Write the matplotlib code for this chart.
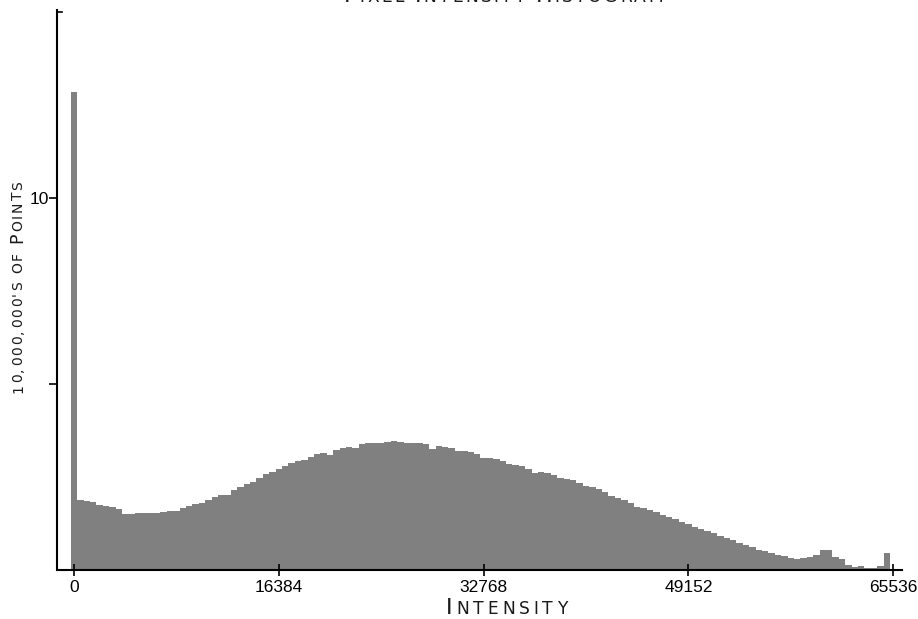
import matplotlib
matplotlib.use("Agg")
import matplotlib.pyplot as plt
import numpy as np

# histogram: 128 bins of 512 levels, counts in units of 10,000,000 points
bin_width = 512
bin_starts = np.arange(0, 65536, bin_width)
counts = [
    12.85, 1.87, 1.85, 1.82, 1.75, 1.71, 1.68, 1.63, 1.51, 1.51,
    1.52, 1.53, 1.52, 1.53, 1.55, 1.58, 1.59, 1.66, 1.72, 1.77,
    1.81, 1.88, 1.95, 2.01, 2.01, 2.15, 2.24, 2.30, 2.36, 2.46,
    2.57, 2.64, 2.72, 2.80, 2.87, 2.94, 2.96, 3.05, 3.12, 3.15,
    3.09, 3.23, 3.28, 3.30, 3.28, 3.38, 3.41, 3.41, 3.40, 3.44,
    3.46, 3.44, 3.40, 3.42, 3.42, 3.39, 3.26, 3.34, 3.31, 3.27,
    3.20, 3.19, 3.16, 3.11, 3.02, 3.02, 2.98, 2.92, 2.85, 2.83,
    2.79, 2.71, 2.62, 2.64, 2.62, 2.55, 2.46, 2.45, 2.41, 2.35,
    2.26, 2.23, 2.18, 2.10, 1.99, 1.94, 1.88, 1.81, 1.68, 1.67,
    1.61, 1.55, 1.47, 1.42, 1.37, 1.29, 1.23, 1.16, 1.11, 1.05,
    0.99, 0.92, 0.85, 0.80, 0.73, 0.67, 0.61, 0.55, 0.51, 0.47,
    0.41, 0.37, 0.32, 0.30, 0.31, 0.35, 0.39, 0.53, 0.53, 0.36,
    0.30, 0.13, 0.09, 0.11, 0.06, 0.05, 0.10, 0.45,
]
x_ticks = [0, 16384, 32768, 49152, 65536]
y_ticks = [5, 10]
y_tick_labels = ["", "10"]

W, H = 918, 619
fig = plt.figure(figsize=(W / 100, H / 100), dpi=100)
ax = fig.add_axes([57.5 / W, (H - 570) / H, (902 - 57.5) / W, (570 - 10) / H])

ax.bar(bin_starts, counts, width=bin_width, color="#808080", linewidth=0, align="center")

ax.set_xlim(-1320, 66240)
ax.set_ylim(0, 15.05)
ax.set_xticks(x_ticks)
ax.set_xticklabels([str(v) for v in x_ticks], fontsize=12.5, family="Liberation Sans")
ax.set_yticks(y_ticks)
ax.set_yticklabels(y_tick_labels, fontsize=12.5, family="Liberation Sans")
ax.tick_params(axis="x", direction="inout", length=8, width=1.2, pad=3)
ax.tick_params(axis="y", direction="out", length=6, width=1.2, pad=0)
# short inward tick at the top of the y axis
ax.plot([0, 5 / (902 - 57.5)], [15, 15], transform=ax.get_yaxis_transform(),
        color="black", lw=1.2, clip_on=False)

for side in ["top", "right"]:
    ax.spines[side].set_visible(False)
for side in ["left", "bottom"]:
    ax.spines[side].set_linewidth(1.5)

renderer = fig.canvas.get_renderer()


def small_caps(parts, x, y, length, rotation=0, family="DejaVu Sans"):
    # letters drawn one by one (big first letters), spread to a given length in pixels
    chars = [(c, size) for s, size in parts for c in s]
    widths = []
    for c, size in chars:
        t = fig.text(0, 0, c if c != " " else "n", fontsize=size, family=family)
        bb = t.get_window_extent(renderer)
        widths.append(bb.width * (0.55 if c == " " else 1.0))
        t.remove()
    track = (length - sum(widths)) / (len(chars) - 1)
    pos = x if rotation == 0 else y
    for (c, size), w in zip(chars, widths):
        if c != " ":
            if rotation == 0:
                fig.text(pos / W, 1 - y / H, c, fontsize=size, family=family,
                         ha="left", va="baseline", color="#1a1a1a")
            else:
                fig.text(x / W, 1 - pos / H, c, fontsize=size, family=family,
                         ha="left", va="baseline", rotation=90,
                         rotation_mode="anchor", color="#1a1a1a")
        if rotation == 0:
            pos += w + track
        else:
            pos -= w + track


small_caps([("I", 16), ("NTENSITY", 12.3)], 446, 614, 121)
small_caps([("10,000,000'S OF ", 10), ("P", 12.5), ("OINTS", 10)], 22, 393, 212, rotation=90)
# title sits above the top edge, only its foot shows as in the source image
small_caps([("P", 16), ("IXEL ", 12.3), ("I", 16), ("NTENSITY ", 12.3),
            ("H", 16), ("ISTOGRAM", 12.3)], 344, 1.5, 319)

fig.savefig("out.png", dpi=100)
